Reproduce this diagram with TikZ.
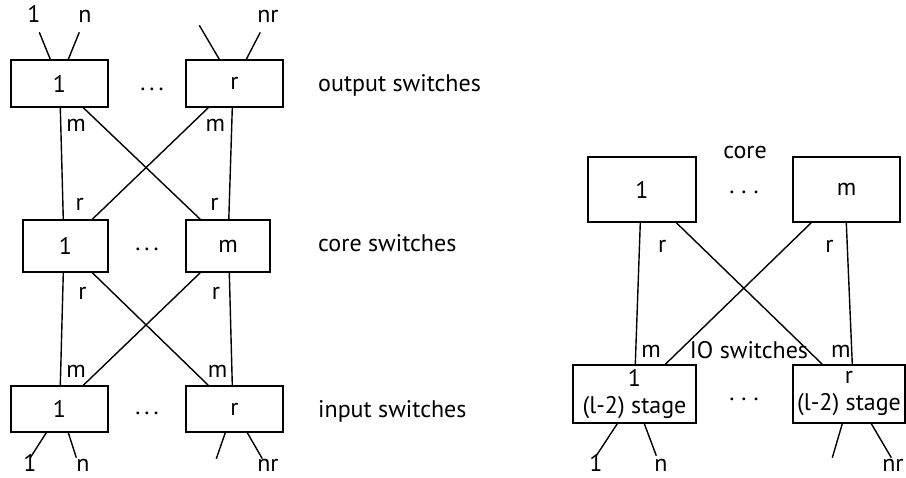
\documentclass[tikz,border=0pt]{standalone}
\usepackage{fontspec}
\setmainfont{PT Sans}
\usetikzlibrary{calc}

\begin{document}
\begin{tikzpicture}[
    x=1pt, y=-1pt,
    font=\fontsize{24}{27}\selectfont,
    switch/.style={rectangle, draw, line width=1.4pt, inner sep=0pt, align=center, minimum width=97pt, minimum height=47pt},
    wire/.style={draw, line width=1.4pt},
    lbl/.style={inner sep=0pt}
]
\useasboundingbox (0,0) rectangle (906,478);

% ---- Left: three-stage network ----
\node[switch] (out1) at (59.5,83.5) {1};
\node[switch] (outr) at (234.5,83.5) {r};
\node[switch, minimum width=85pt, minimum height=52pt] (core1) at (65.5,246) {1};
\node[switch, minimum width=84pt, minimum height=52pt] (corem) at (228,246) {m};
\node[switch, minimum height=46pt] (in1) at (59.5,409) {1};
\node[switch, minimum height=46pt] (inr) at (234.5,409) {r};

\node[lbl] (dots_out) at (152,89) {.\hspace{4pt}.\hspace{4pt}.};
\node[lbl] (dots_core) at (147,249) {.\hspace{4pt}.\hspace{4pt}.};
\node[lbl] (dots_in) at (147,413) {.\hspace{4pt}.\hspace{4pt}.};

\node[lbl, anchor=base west] (out_txt) at (318,92) {output switches};
\node[lbl, anchor=base west] (core_txt) at (318,252) {core switches};
\node[lbl, anchor=base west] (in_txt) at (318,418) {input switches};

% ---- Right: core and IO switches ----
\node[switch, minimum width=108pt, minimum height=65pt] (rcore1) at (642,189.5) {1};
\node[switch, minimum width=107pt, minimum height=65pt] (rcorem) at (846.5,189.5) {m};
\node[switch, minimum width=123pt, minimum height=58pt] (stage1) at (634.5,394) {1\\(l-2) stage};
\node[switch, minimum width=112pt, minimum height=58pt] (stager) at (849,394) {r\\(l-2) stage};

\node[lbl] (rdots_core) at (744,192) {.\hspace{7pt}.\hspace{7pt}.};
\node[lbl] (rdots_io) at (744,399) {.\hspace{7pt}.\hspace{7pt}.};
\node[lbl] (core_lbl) at (745,153) {core};
\node[lbl, anchor=base] (io_lbl) at (749,359) {IO switches};

% ---- Leads ----
\draw[wire] ([xshift=40pt]out1.north west) -- ++(-11,-27);
\draw[wire] ([xshift=58pt]out1.north west) -- ++(11,-27);
\draw[wire] ([xshift=34pt]outr.north west) -- ++(-20,-34);
\draw[wire] ([xshift=61pt]outr.north west) -- ++(14,-27);
\draw[wire] ([xshift=36pt]in1.south west) -- ++(-16,25);
\draw[wire] ([xshift=58pt]in1.south west) -- ++(8,25);
\draw[wire] ([xshift=40pt]inr.south west) -- ++(-9,26);
\draw[wire] ([xshift=62pt]inr.south west) -- ++(15,26);
\draw[wire] ([xshift=45pt]stage1.south west) -- ++(-21,32);
\draw[wire] ([xshift=72pt]stage1.south west) -- ++(12,32);
\draw[wire] ([xshift=50pt]stager.south west) -- ++(-10,34);
\draw[wire] ([xshift=79pt]stager.south west) -- ++(20,34);

\node[lbl, anchor=base] (top_1) at (34,23) {1};
\node[lbl, anchor=base] (top_n) at (85,23) {n};
\node[lbl, anchor=base] (top_nr) at (268,23) {nr};
\node[lbl, anchor=base] (bot_1) at (30,472) {1};
\node[lbl, anchor=base] (bot_n) at (83,472) {n};
\node[lbl, anchor=base] (bot_nr) at (268,472) {nr};
\node[lbl, anchor=base] (rbot_1) at (596,472) {1};
\node[lbl, anchor=base] (rbot_n) at (661,472) {n};
\node[lbl, anchor=base] (rbot_nr) at (893,472) {nr};

% ---- Connections: left ----
\draw[wire] ([xshift=50pt]out1.south west) -- node[lbl, pos=.16, right=5pt] {m} node[lbl, pos=.87, right=12pt] {r} ([xshift=41pt]core1.north west);
\draw[wire] ([xshift=73pt]out1.south west) -- ([xshift=15pt]corem.north west);
\draw[wire] ([xshift=23pt]outr.south west) -- ([xshift=70pt]core1.north west);
\draw[wire] ([xshift=47pt]outr.south west) -- node[lbl, pos=.16, left=6pt] {m} node[lbl, pos=.87, left=10pt] {r} ([xshift=43.5pt]corem.north west);

\draw[wire] ([xshift=41pt]core1.south west) -- node[lbl, pos=.18, right=15pt] {r} node[lbl, pos=.88, right=5pt] {m} ([xshift=50pt]in1.north west);
\draw[wire] ([xshift=70pt]core1.south west) -- ([xshift=23pt]inr.north west);
\draw[wire] ([xshift=15pt]corem.south west) -- ([xshift=73pt]in1.north west);
\draw[wire] ([xshift=44pt]corem.south west) -- node[lbl, pos=.18, left=9pt] {r} node[lbl, pos=.88, left=4pt] {m} ([xshift=47pt]inr.north west);

% ---- Connections: right ----
\draw[wire] ([xshift=53pt]rcore1.south west) -- node[lbl, pos=.17, right=18pt] {r} node[lbl, pos=.91, right=5pt] {m} ([xshift=63pt]stage1.north west);
\draw[wire] ([xshift=89pt]rcore1.south west) -- ([xshift=30pt]stager.north west);
\draw[wire] ([xshift=19pt]rcorem.south west) -- ([xshift=93pt]stage1.north west);
\draw[wire] ([xshift=54pt]rcorem.south west) -- node[lbl, pos=.17, left=13pt] {r} node[lbl, pos=.91, left=0.5pt] {m} ([xshift=60pt]stager.north west);

\end{tikzpicture}
\end{document}
